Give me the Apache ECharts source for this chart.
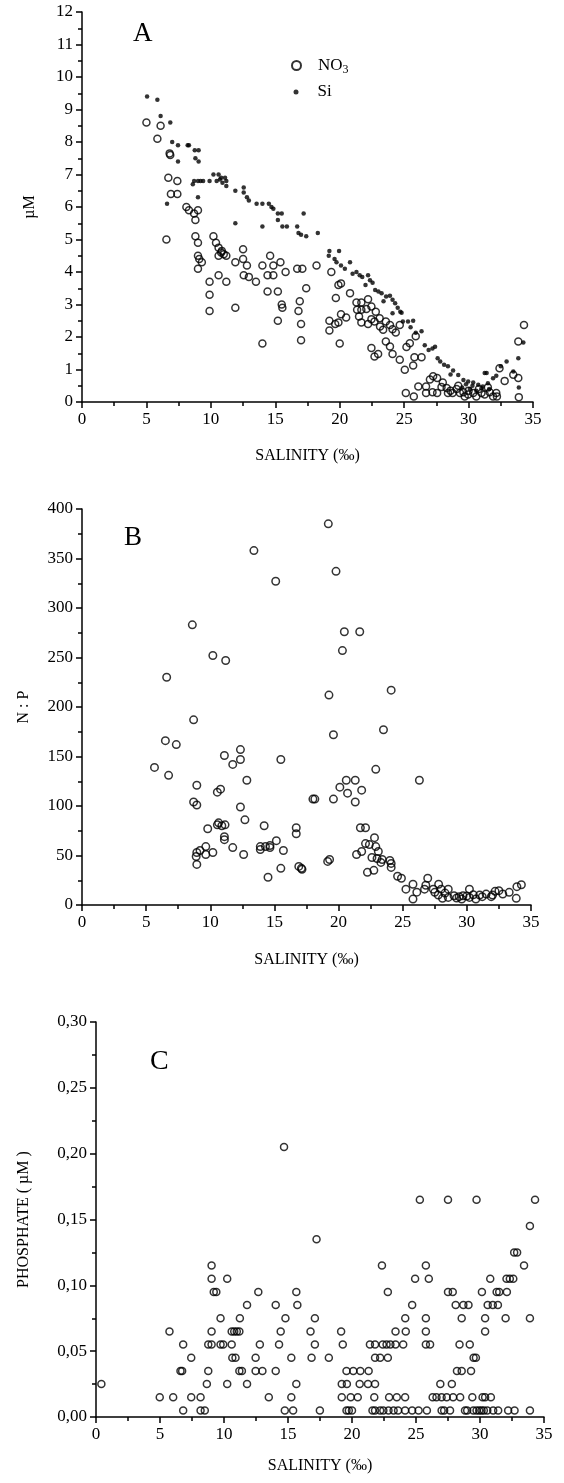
<!DOCTYPE html>
<html>
<head>
<meta charset="utf-8">
<script src="https://cdn.jsdelivr.net/npm/echarts@6/dist/echarts.min.js"></script>
<style>
html,body{margin:0;padding:0;background:#fff;}
#c{width:564px;height:1483px;}
</style>
</head>
<body>
<div id="c"></div>
<script>
// Panel A: nitrate (NO3) vs salinity [salinity, µM]
var no3 = [
[5.0,8.6],[5.85,8.1],[6.1,8.5],[6.8,7.65],[6.85,7.6],[6.7,6.9],[7.4,6.8],[6.9,6.4],[7.4,6.4],[6.55,5.0],
[8.1,6.0],[8.3,5.9],[8.7,5.8],[9.0,5.9],[8.8,5.6],[8.8,5.1],[9.0,4.9],[9.0,4.5],[9.1,4.4],[9.3,4.3],[9.0,4.1],
[9.9,3.7],[9.9,3.3],[9.9,2.8],
[10.2,5.1],[10.4,4.9],[10.6,4.75],[10.8,4.6],[11.0,4.55],[11.2,4.5],[10.6,4.5],[10.85,4.65],
[10.6,3.9],[11.2,3.7],[11.9,4.3],[12.5,4.7],[12.5,4.4],[12.8,4.2],[12.55,3.9],[12.95,3.85],[13.5,3.7],[11.9,2.9],
[14.0,4.2],[14.6,4.5],[14.85,4.2],[14.4,3.9],[14.85,3.9],[15.4,4.3],[15.8,4.0],[14.0,1.8],[14.4,3.4],[15.2,3.4],[15.5,3.0],[15.55,2.9],[15.2,2.5],
[16.7,4.1],[17.1,4.1],[17.4,3.5],[16.9,3.1],[16.8,2.8],[17.0,2.4],[17.0,1.9],[18.2,4.2],
[19.35,4.0],[19.7,3.2],[19.9,3.6],[20.1,3.65],[20.8,3.35],[19.2,2.5],[19.2,2.2],[19.65,2.4],[19.9,2.45],[20.1,2.7],[20.5,2.6],[20.0,1.8],
[21.3,3.06],[21.68,3.06],[22.2,3.16],[21.35,2.84],[21.68,2.84],[22.07,2.86],[22.46,2.94],[22.8,2.78],[21.5,2.63],[21.68,2.45],
[22.2,2.4],[22.46,2.55],[22.7,2.48],[23.13,2.32],[23.37,2.22],[23.58,2.48],[23.9,2.37],[24.1,2.24],[24.35,2.14],[24.66,2.37],[23.1,2.58],
[22.46,1.66],[22.7,1.4],[22.98,1.48],[23.58,1.86],[23.9,1.71],[24.1,1.48],[24.66,1.3],[25.18,1.69],[25.44,1.81],[25.9,2.02],
[25.8,1.38],[26.35,1.38],[25.05,0.99],[25.7,1.12],[25.13,0.28],[25.75,0.17],[26.1,0.48],[26.7,0.48],[27.0,0.69],[27.25,0.79],[27.56,0.74],
[26.7,0.28],[27.2,0.3],[27.56,0.28],[27.9,0.46],[28.3,0.43],[28.4,0.28],[28.76,0.28],[29.07,0.4],[29.33,0.28],[29.7,0.17],[29.97,0.23],
[30.36,0.28],[30.6,0.17],[31.0,0.28],[31.25,0.23],[31.64,0.3],[31.9,0.17],[32.15,0.28],[32.2,0.17],
[28.0,0.6],[28.6,0.35],[29.2,0.5],[30.0,0.35],[30.8,0.4],[31.5,0.45],[29.6,0.3],
[32.4,1.04],[32.8,0.65],[33.47,0.84],[33.86,0.74],[33.9,0.15],[33.86,1.86],[34.3,2.37]
];
// Panel A: silicate (Si) vs salinity [salinity, µM]
var si = [
[5.05,9.4],[5.85,9.3],[6.1,8.8],[6.85,8.6],[7.0,8.0],[7.45,7.9],[8.2,7.9],[8.3,7.9],[8.75,7.75],[9.05,7.75],[8.8,7.5],[9.05,7.4],[7.45,7.4],[6.6,6.1],
[8.6,6.7],[8.7,6.8],[9.0,6.8],[9.2,6.8],[9.4,6.8],[9.0,6.3],
[9.9,6.8],[10.2,7.0],[10.6,7.0],[10.8,6.9],[11.1,6.9],[11.2,6.8],[11.2,6.65],[10.45,6.8],[10.7,6.85],[10.9,6.75],
[11.9,6.5],[11.9,5.5],[12.55,6.6],[12.55,6.45],[12.8,6.3],[12.95,6.2],
[13.55,6.1],[14.0,6.1],[14.5,6.1],[14.7,6.0],[14.85,5.95],[14.0,5.4],
[15.2,5.8],[15.5,5.8],[15.2,5.6],[15.55,5.4],[15.9,5.4],
[16.7,5.4],[17.2,5.8],[16.8,5.2],[17.0,5.15],[17.4,5.1],[18.3,5.2],
[19.2,4.65],[19.95,4.65],[19.15,4.5],[19.6,4.4],[19.75,4.3],[20.1,4.2],[20.4,4.1],[20.8,4.3],
[21.3,4.0],[21.55,3.9],[21.75,3.85],[22.2,3.9],[22.35,3.75],[22.55,3.67],[21.0,3.95],[22.0,3.6],
[22.75,3.45],[23.0,3.4],[23.25,3.35],[23.6,3.25],[23.9,3.27],[24.1,3.15],[24.3,3.04],[23.4,3.1],[24.5,2.9],
[24.1,2.73],[24.7,2.78],[24.8,2.75],[24.9,2.48],[25.3,2.48],[25.7,2.5],[25.5,2.3],
[25.9,2.13],[26.35,2.18],[26.6,1.75],[26.9,1.6],[27.2,1.65],[27.4,1.7],[27.6,1.35],
[27.8,1.25],[28.1,1.15],[28.4,1.1],[28.8,0.97],[28.6,0.85],
[29.2,0.83],[29.6,0.68],[29.97,0.63],[30.36,0.6],[30.75,0.53],[31.1,0.48],[31.5,0.58],[31.9,0.73],[32.15,0.81],[32.5,1.1],[32.95,1.25],
[31.25,0.89],[31.4,0.89],[29.5,0.45],[30.1,0.4],[30.6,0.35],[31.0,0.42],[31.6,0.4],[30.3,0.5],[29.8,0.55],
[33.47,0.94],[33.86,1.35],[34.25,1.83],[33.9,0.45]
];
// Panel B: N:P ratio vs salinity
var np = [
[13.4,358],[15.1,327],[8.6,283],[10.2,252],[11.2,247],[6.6,230],[8.7,187],[6.5,166],[7.35,162],[12.35,157],[11.1,151],[12.35,147],[15.5,147],
[11.75,142],[5.65,139],[6.75,131],[12.85,126],[8.95,121],[10.55,114],[10.8,117],[8.7,104],[8.95,101],[12.35,99],[18.0,107],[12.7,86],
[9.8,77],[10.55,81],[10.65,83],[10.9,80],[11.15,81],[11.1,69],[11.1,66],[14.2,80],[16.7,78],[16.7,72],[9.65,59],[9.65,51],[8.95,53],[8.9,49],
[9.2,55],[10.2,53],[8.95,41],[11.75,58],[12.6,51],[13.9,56],[13.9,59],[14.3,59],[14.65,60],[14.65,58],[15.15,65],[15.7,55],[15.5,37],[14.5,28],[16.9,39],[17.1,37],
[19.2,385],[19.8,337],[20.45,276],[21.65,276],[20.3,257],[24.1,217],[19.25,212],[23.5,177],[19.6,172],[22.9,137],[26.3,126],[20.1,119],[20.6,126],
[21.3,126],[20.7,113],[21.8,116],[18.15,107],[19.6,107],[21.3,104],[21.7,78],[22.1,78],[22.8,68],[22.1,62],[22.4,61],[22.9,59],[23.1,54],[21.4,51],
[21.8,54],[22.6,48],[23.0,47],[23.3,43],[23.4,46],[22.25,33],[22.75,35],[24.0,45],[24.1,42],[24.1,38],[19.15,44],[19.3,46],[17.15,36],[24.6,29],
[24.9,27],[25.25,16],[25.8,21],[26.1,13],[25.8,6],[26.7,16],[26.8,20],[26.95,27],
[27.38,16],[27.5,12.8],[27.8,21],[28.0,16],[27.77,10],[28.1,6.7],[28.55,16],[28.55,7.7],[29.0,9.4],[29.4,8.4],[29.7,9.4],[29.6,6],[30.2,16],
[30.2,7.7],[30.5,10.4],[30.7,6],[31.2,8.4],[31.5,11],[31.9,8.4],[32.2,13.8],[32.5,14.5],[32.8,11],[33.3,12.8],[33.85,6.7],[33.9,18.5],[34.25,20.5],
[28.3,12],[29.2,7],[30.0,9],[31.0,10],[32.0,10]
];
// Panel C: phosphate (µM) vs salinity
var po4 = [
[0.42,0.025],[4.98,0.015],[6.03,0.015],[5.74,0.065],[6.81,0.055],[6.6,0.035],[6.73,0.035],[6.81,0.005],[7.44,0.045],[7.44,0.015],[8.17,0.015],
[8.17,0.005],[8.5,0.005],[8.66,0.025],[8.77,0.035],[8.77,0.055],[9.03,0.055],[9.03,0.065],[9.03,0.115],[9.03,0.105],[9.2,0.095],[9.4,0.095],
[9.73,0.075],[9.73,0.055],[9.94,0.055],[10.25,0.105],[10.25,0.025],[10.6,0.055],[10.6,0.065],[10.8,0.065],[11.0,0.065],[11.2,0.065],[10.65,0.045],
[10.9,0.045],[11.24,0.075],[11.2,0.035],[11.4,0.035],[11.8,0.085],[11.8,0.025],[12.47,0.045],[12.47,0.035],[13.0,0.035],[12.68,0.095],[12.8,0.055],
[13.5,0.015],[14.04,0.085],[14.04,0.035],[14.3,0.055],[14.43,0.065],[14.69,0.205],[14.8,0.075],[14.75,0.005],[15.4,0.005],[15.26,0.045],[15.26,0.015],
[15.65,0.095],[15.73,0.085],[15.65,0.025],
[17.23,0.135],[16.76,0.065],[17.1,0.075],[17.1,0.055],[16.84,0.045],[18.19,0.045],[17.49,0.005],[19.15,0.065],[19.28,0.055],[19.2,0.025],[19.6,0.025],
[19.2,0.015],[19.57,0.005],[19.75,0.005],[20.0,0.005],[19.57,0.035],[20.1,0.035],[20.65,0.035],[21.3,0.035],[19.9,0.015],[20.45,0.015],[20.6,0.025],
[21.25,0.025],[21.8,0.025],[21.74,0.015],
[21.4,0.055],[21.8,0.055],[22.4,0.055],[22.7,0.055],[23.0,0.055],[23.4,0.055],[24.0,0.055],[21.8,0.045],[22.2,0.045],[22.8,0.045],[22.34,0.115],
[22.8,0.095],[22.9,0.015],[23.5,0.015],[24.15,0.015],[23.4,0.065],[24.2,0.065],[24.16,0.075],[24.7,0.085],[24.93,0.105],[25.3,0.165],[25.77,0.115],
[26.0,0.105],[25.77,0.075],[25.77,0.065],[25.77,0.055],[26.1,0.055],
[21.6,0.005],[21.8,0.005],[22.2,0.005],[22.45,0.005],[22.85,0.005],[23.25,0.005],[23.6,0.005],[24.15,0.005],[24.7,0.005],[25.2,0.005],[25.85,0.005],
[26.3,0.015],[26.6,0.015],[27.0,0.015],[27.4,0.015],[27.9,0.015],[28.45,0.015],
[26.9,0.025],[27.8,0.025],[27.0,0.005],[27.2,0.005],[27.66,0.005],[27.5,0.165],[27.5,0.095],[27.87,0.095],[28.1,0.085],[28.7,0.085],[29.1,0.085],
[28.57,0.075],[28.4,0.055],[29.2,0.055],[28.2,0.035],[28.57,0.035],[29.3,0.035],[29.4,0.015],[29.5,0.045],[29.68,0.045],[29.73,0.165],
[28.83,0.005],[29.0,0.005],[29.48,0.005],[29.73,0.005],[29.94,0.005],[30.12,0.005],[30.3,0.005],[30.57,0.005],[31.03,0.005],[31.42,0.005],
[30.2,0.015],[30.4,0.015],[30.85,0.015],[30.15,0.095],[30.4,0.075],[30.4,0.065],[30.8,0.105],[30.6,0.085],[31.0,0.085],[31.4,0.085],[31.3,0.095],
[31.5,0.095],[32.1,0.095],[32.0,0.075],[32.07,0.105],[32.33,0.105],[32.6,0.105],[32.67,0.125],[32.9,0.125],[33.44,0.115],[33.9,0.145],[33.9,0.075],
[34.3,0.165],[32.2,0.005],[32.7,0.005],[33.9,0.005]
];

var FONT = 'Liberation Serif';
var BLACK = '#000';
var lineSt = {color: BLACK, width: 1.5};

function xAx(gi, gap) {
  return {
    gridIndex: gi, type: 'value', min: 0, max: 35, interval: 5,
    name: 'SALINITY (‰)', nameLocation: 'middle', nameGap: gap,
    nameTextStyle: {fontFamily: FONT, fontSize: 16, color: BLACK},
    axisLine: {onZero: false, lineStyle: lineSt},
    axisTick: {length: 6, lineStyle: lineSt},
    minorTick: {show: true, splitNumber: 2, length: 4, lineStyle: lineSt},
    splitLine: {show: false}, minorSplitLine: {show: false},
    axisLabel: {fontFamily: FONT, fontSize: 17, color: BLACK, margin: 9}
  };
}
function yAx(gi, min, max, interval, name, gap, fmt) {
  return {
    gridIndex: gi, type: 'value', min: min, max: max, interval: interval,
    name: name, nameLocation: 'middle', nameGap: gap, nameRotate: 90,
    nameTextStyle: {fontFamily: FONT, fontSize: 16, color: BLACK},
    axisLine: {onZero: false, lineStyle: lineSt},
    axisTick: {length: 6, lineStyle: lineSt},
    minorTick: {show: true, splitNumber: 2, length: 4, lineStyle: lineSt},
    splitLine: {show: false}, minorSplitLine: {show: false},
    axisLabel: {fontFamily: FONT, fontSize: 17, color: BLACK, margin: 9, formatter: fmt}
  };
}
var ring = {color: 'rgba(0,0,0,0)', borderColor: BLACK, borderWidth: 1.5};

var chart = echarts.init(document.getElementById('c'), null, {renderer: 'canvas'});
chart.setOption({
  animation: false,
  backgroundColor: '#fff',
  title: [
    {text: 'A', left: 133, top: 20, padding: 0, textStyle: {fontFamily: FONT, fontWeight: 'normal', fontSize: 27, color: BLACK}},
    {text: 'B', left: 124, top: 524, padding: 0, textStyle: {fontFamily: FONT, fontWeight: 'normal', fontSize: 27, color: BLACK}},
    {text: 'C', left: 150, top: 1048, padding: 0, textStyle: {fontFamily: FONT, fontWeight: 'normal', fontSize: 28, color: BLACK}}
  ],
  legend: [
    {data: ['NO3'], orient: 'vertical', left: 291, top: 57, itemWidth: 9, itemHeight: 9, padding: 0,
     formatter: function () { return '{n|NO}{s|3}'; },
     textStyle: {fontFamily: FONT, fontSize: 17, color: BLACK, padding: [0, 0, 0, 12],
       rich: {n: {fontFamily: FONT, fontSize: 17, color: BLACK, lineHeight: 20},
              s: {fontFamily: FONT, fontSize: 12, color: BLACK, lineHeight: 10, verticalAlign: 'bottom'}}}},
    {data: ['Si'], orient: 'vertical', left: 293.5, top: 82, itemWidth: 5, itemHeight: 5, padding: 0,
     textStyle: {fontFamily: FONT, fontSize: 17, color: BLACK, padding: [0, 0, 0, 14], lineHeight: 20}}
  ],
  grid: [
    {left: 82, top: 12, width: 451, height: 390},
    {left: 82, top: 509, width: 449, height: 396},
    {left: 96, top: 1022, width: 448, height: 395}
  ],
  xAxis: [xAx(0, 46), xAx(1, 47), xAx(2, 41)],
  yAxis: [
    yAx(0, 0, 12, 1, 'µM', 44, null),
    yAx(1, 0, 400, 50, 'N : P', 50, null),
    yAx(2, 0, 0.30, 0.05, 'PHOSPHATE ( µM )', 64, function (v) { return v.toFixed(2).replace('.', ','); })
  ],
  series: [
    {name: 'NO3', type: 'scatter', xAxisIndex: 0, yAxisIndex: 0, data: no3, symbol: 'circle', symbolSize: 7, itemStyle: ring},
    {name: 'Si', type: 'scatter', xAxisIndex: 0, yAxisIndex: 0, data: si, symbol: 'circle', symbolSize: 4.5, itemStyle: {color: BLACK}},
    {name: 'N:P', type: 'scatter', xAxisIndex: 1, yAxisIndex: 1, data: np, symbol: 'circle', symbolSize: 7.5, itemStyle: ring},
    {name: 'PO4', type: 'scatter', xAxisIndex: 2, yAxisIndex: 2, data: po4, symbol: 'circle', symbolSize: 7, itemStyle: ring}
  ]
});
</script>
</body>
</html>
